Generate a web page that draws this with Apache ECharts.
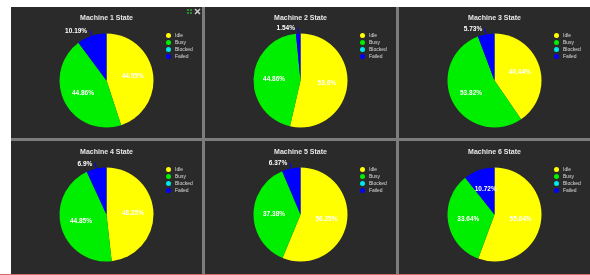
<!DOCTYPE html>
<html>
<head>
<meta charset="utf-8">
<script src="https://cdn.jsdelivr.net/npm/echarts@6/dist/echarts.min.js"></script>
<style>
body { margin: 0; background: #fff; }
#board { position: absolute; left: 11px; top: 7px; width: 579px; height: 267px; background: #7c7c7c; }
.chart { position: absolute; background: #2a2a2a; }
#redline { position: absolute; left: 0; top: 274px; width: 590px; height: 1px; background: #d66a6a; }
</style>
</head>
<body>
<div id="board"></div>
<div id="redline"></div>
<script>
const states = ['Idle', 'Busy', 'Blocked', 'Failed'];
const stateColors = ['#ffff00', '#00ee00', '#00e8e8', '#0000ff'];
const titles = ['Machine 1 State', 'Machine 2 State', 'Machine 3 State',
                'Machine 4 State', 'Machine 5 State', 'Machine 6 State'];
// percentage of time in each state, per machine
const idle    = [44.95, 53.6, 40.44, 48.25, 56.25, 55.64];
const busy    = [44.86, 44.86, 53.82, 44.85, 37.38, 33.64];
const blocked = [0, 0, 0, 0, 0, 0];
const failed  = [10.19, 1.54, 5.73, 6.9, 6.37, 10.72];

const colLeft = [0, 194, 388];
const rowTop = [0, 134];
const rowH = [131, 133];
const board = document.getElementById('board');

titles.forEach(function (title, i) {
  const r = Math.floor(i / 3), c = i % 3;
  const div = document.createElement('div');
  div.className = 'chart';
  div.style.left = colLeft[c] + 'px';
  div.style.top = rowTop[r] + 'px';
  div.style.width = '191px';
  div.style.height = rowH[r] + 'px';
  board.appendChild(div);

  const vals = [idle[i], busy[i], blocked[i], failed[i]];
  const data = states.map(function (name, k) {
    const item = { name: name, value: vals[k] };
    if (vals[k] === 0) {
      item.label = { show: false };
      item.labelLine = { show: false };
    } else if (vals[k] < 10.5) {
      // small slices get their label outside
      item.label = { position: 'outside', distanceToLabelLine: 2 };
      item.labelLine = { show: true, length: 5, length2: 1, lineStyle: { color: stateColors[k], width: 1 } };
    }
    return item;
  });

  const chart = echarts.init(div, null, { renderer: 'canvas' });
  const option = {
    backgroundColor: '#2a2a2a',
    animation: false,
    color: stateColors,
    title: {
      text: title,
      left: 'center',
      top: 3,
      textStyle: { color: '#e8e8e8', fontSize: 7, fontWeight: 'bold', fontFamily: 'Liberation Sans' }
    },
    legend: {
      orient: 'vertical',
      left: 150,
      top: 21,
      icon: 'circle',
      itemWidth: 5,
      itemHeight: 5,
      itemGap: 2,
      data: states,
      textStyle: { color: '#dddddd', fontSize: 5, fontFamily: 'Liberation Sans', padding: [0, 0, 0, -1] }
    },
    series: [{
      type: 'pie',
      center: ['50%', 73.5],
      radius: 47,
      startAngle: 90,
      clockwise: true,
      avoidLabelOverlap: false,
      label: {
        show: true,
        position: 'inside',
        formatter: function (p) { return p.value + '%'; },
        color: '#ffffff',
        fontSize: 6.5,
        fontWeight: 'bold',
        fontFamily: 'Liberation Sans'
      },
      itemStyle: { borderWidth: 0 },
      emphasis: { disabled: true },
      data: data
    }]
  };
  if (i === 0) {
    // little panel controls in the first chart's corner
    option.graphic = [
      { type: 'rect', left: 176, top: 2, shape: { width: 2, height: 2 }, style: { fill: '#2f8a2f' } },
      { type: 'rect', left: 179, top: 2, shape: { width: 2, height: 2 }, style: { fill: '#2f8a2f' } },
      { type: 'rect', left: 176, top: 5, shape: { width: 2, height: 2 }, style: { fill: '#2f8a2f' } },
      { type: 'rect', left: 179, top: 5, shape: { width: 2, height: 2 }, style: { fill: '#2f8a2f' } },
      { type: 'line', shape: { x1: 184, y1: 2, x2: 189, y2: 7 }, style: { stroke: '#cccccc', lineWidth: 1.5 } },
      { type: 'line', shape: { x1: 189, y1: 2, x2: 184, y2: 7 }, style: { stroke: '#cccccc', lineWidth: 1.5 } }
    ];
  }
  chart.setOption(option);
});
</script>
</body>
</html>
